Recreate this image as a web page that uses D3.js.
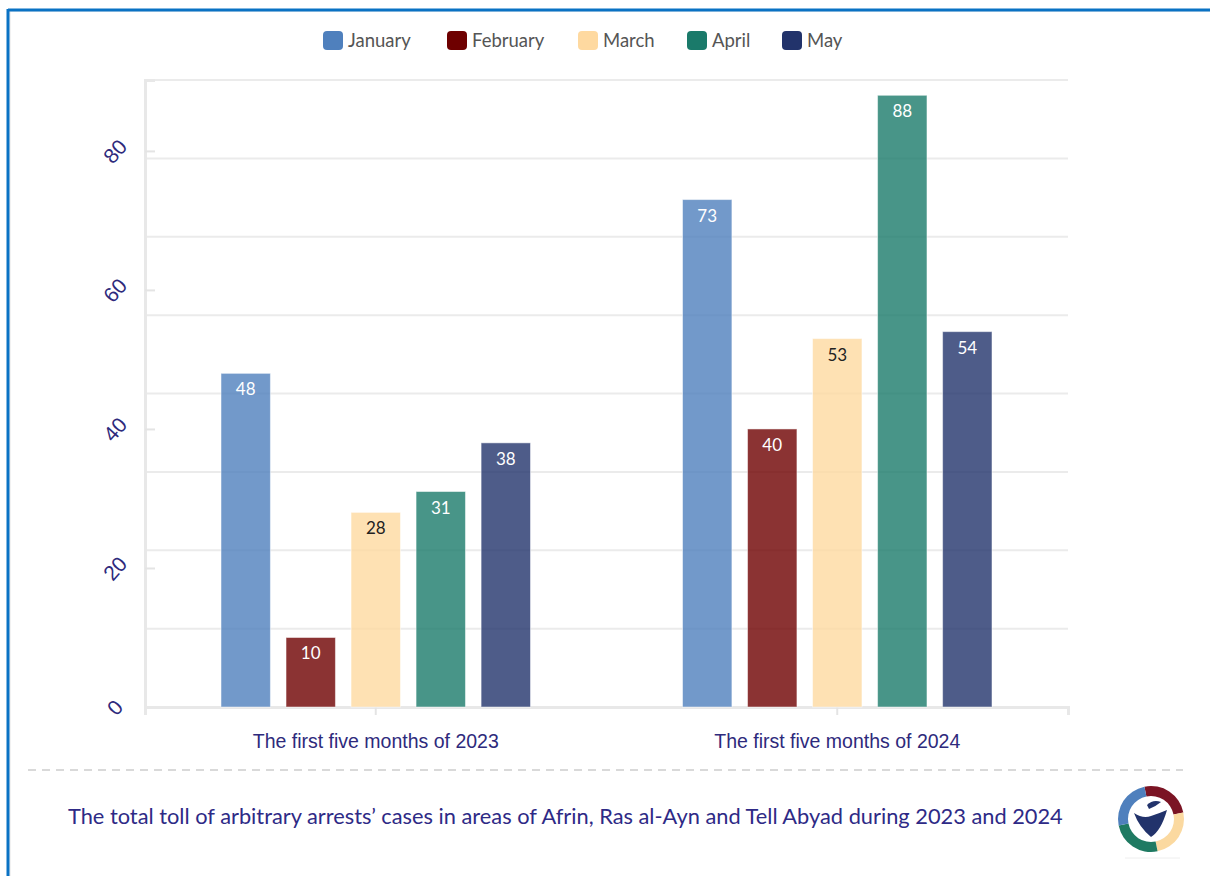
<!DOCTYPE html>
<html>
<head>
<meta charset="utf-8">
<script src="https://cdn.jsdelivr.net/npm/d3@7"></script>
<style>
  html, body { margin: 0; padding: 0; background: #fff; }
  #chart { width: 1210px; height: 876px; }
  svg { display: block; font-family: Lato, "Noto Sans", sans-serif; }
</style>
</head>
<body>
<div id="chart"></div>
<script>
// data
var groups = ["The first five months of 2023", "The first five months of 2024"]
var months = ["January", "February", "March", "April", "May"]
var values2023 = [48, 10, 28, 31, 38]
var values2024 = [73, 40, 53, 88, 54]
var yTicks = [0, 20, 40, 60, 80]
var monthColors = ["#4f80bd", "#6e0000", "#fed9a0", "#1a7a6a", "#22336b"]
var caption = "The total toll of arbitrary arrests\u2019 cases in areas of Afrin, Ras al-Ayn and Tell Abyad during 2023 and 2024"

var seriesByGroup = [values2023, values2024]

function renderChart(render_id) {
    var W = 1210, H = 876
    var svg = d3.select("#" + render_id).append("svg")
        .attr("width", W)
        .attr("height", H)

    // frame (blue border on top / left)
    svg.append("rect").attr("x", 10).attr("y", 11).attr("width", W).attr("height", H)
        .attr("fill", "none").attr("stroke", "#e4e4e4").attr("stroke-width", 1)
    svg.append("line").attr("x1", 8).attr("x2", W).attr("y1", 10).attr("y2", 10)
        .attr("stroke", "#0a72c4").attr("stroke-width", 3)
    svg.append("line").attr("x1", 8).attr("x2", 8).attr("y1", 9).attr("y2", H)
        .attr("stroke", "#0a72c4").attr("stroke-width", 3)

    var left = 145, right = 1068, top = 80, bottom = 707
    var yMax = 90.2

    var x0 = d3.scaleBand().domain(groups).range([left, right]).padding(0)
    var x1 = d3.scaleBand().domain(months).range([76, x0.bandwidth() - 76]).paddingInner(0.24).paddingOuter(0)
    var y = d3.scaleLinear().domain([0, yMax]).range([bottom, top])
    var color = d3.scaleOrdinal().domain(months).range(monthColors)

    // grid lines (8 even divisions of the plot)
    var gridVals = d3.range(1, 9).map(function (i) { return yMax * i / 8 })
    svg.append("g").selectAll("line")
        .data(gridVals)
        .enter().append("line")
        .attr("x1", left).attr("x2", right)
        .attr("y1", function (d) { return y(d) }).attr("y2", function (d) { return y(d) })
        .attr("stroke", "#ebebeb").attr("stroke-width", 2)

    // y axis
    var yAxis = svg.append("g")
        .attr("transform", "translate(" + left + ",0)")
        .call(d3.axisLeft(y).tickValues(yTicks).tickSize(-10).tickPadding(22))
    yAxis.select(".domain").attr("stroke", "#e8e8e8").attr("stroke-width", 3)
    yAxis.selectAll(".tick line").attr("stroke", "#e4e4e4").attr("stroke-width", 2)
        .attr("x1", 0).attr("x2", 10)
    yAxis.selectAll(".tick text")
        .attr("fill", "#2e2a7c")
        .style("font-size", "21px")
        .attr("text-anchor", "middle")
        .attr("x", -30)
        .attr("dy", "0.35em")
        .attr("transform", function () { return "rotate(-48," + (-30) + ",0)" })

    // x axis
    var xAxis = svg.append("g")
        .attr("transform", "translate(0," + bottom + ")")
        .call(d3.axisBottom(x0).tickSize(8).tickPadding(19))
    xAxis.select(".domain").attr("stroke", "#e8e8e8").attr("stroke-width", 3)
    xAxis.selectAll(".tick line").attr("stroke", "#e4e4e4").attr("stroke-width", 2)
    xAxis.selectAll(".tick text")
        .attr("fill", "#2e2a7c")
        .style("font-size", "19.5px")

    // bars
    var gGroups = svg.append("g").selectAll("g")
        .data(groups)
        .enter().append("g")
        .attr("transform", function (d) { return "translate(" + x0(d) + ",0)" })

    var bar = gGroups.selectAll("g")
        .data(function (d, i) {
            return months.map(function (m, j) { return { month: m, value: seriesByGroup[i][j] } })
        })
        .enter().append("g")

    bar.append("rect")
        .attr("x", function (d) { return x1(d.month) })
        .attr("y", function (d) { return y(d.value) })
        .attr("width", x1.bandwidth())
        .attr("height", function (d) { return y(0) - y(d.value) })
        .attr("fill", function (d) { return color(d.month) })
        .attr("fill-opacity", 0.8)
        .attr("stroke", "#ffffff")
        .attr("stroke-opacity", 0.5)
        .attr("stroke-width", 1)

    bar.append("text")
        .attr("x", function (d) { return x1(d.month) + x1.bandwidth() / 2 })
        .attr("y", function (d) { return y(d.value) + 22 })
        .attr("text-anchor", "middle")
        .attr("fill", function (d) { return d.month === "March" ? "#222" : "#fff" })
        .style("font-size", "17px")
        .text(function (d) { return d.value })

    // legend
    var legendX = [323, 447, 578, 687, 782]
    var legend = svg.append("g").selectAll("g")
        .data(months)
        .enter().append("g")
        .attr("transform", function (d, i) { return "translate(" + legendX[i] + ",31)" })
    legend.append("rect")
        .attr("width", 20).attr("height", 19).attr("rx", 4)
        .attr("fill", function (d) { return color(d) })
    legend.append("text")
        .attr("x", 25).attr("y", 10).attr("dy", "0.35em")
        .attr("fill", "#555")
        .style("font-size", "18.5px")
        .text(function (d) { return d })

    // dashed separator
    svg.append("line")
        .attr("x1", 28).attr("x2", 1183).attr("y1", 770).attr("y2", 770)
        .attr("stroke", "#d9d9d9").attr("stroke-width", 2)
        .attr("stroke-dasharray", "8,6")

    // caption
    svg.append("text")
        .attr("x", 68).attr("y", 824)
        .attr("fill", "#2e2a86")
        .style("font-size", "21.8px")
        .text(caption)

    // logo
    var logo = svg.append("g").attr("transform", "translate(1151,819)")
    var arc = d3.arc().innerRadius(23).outerRadius(33)
    var logoCols = ["#7b1424", "#fbd9a0", "#1f7a62", "#4f80bd"]
    logo.selectAll("path")
        .data(logoCols)
        .enter().append("path")
        .attr("d", function (d, i) { return arc({ startAngle: i * Math.PI / 2 - 0.2, endAngle: (i + 1) * Math.PI / 2 - 0.2 }) })
        .attr("fill", function (d) { return d })
    logo.append("path")
        .attr("d", "M-17,-6 Q-8,0 0,-3 Q9,-6 16,-9 Q10,12 0,18 Q-12,8 -17,-6 Z")
        .attr("fill", "#22336b")
    logo.append("path")
        .attr("d", "M-4,-14 Q2,-20 10,-17 Q4,-12 -2,-10 Z")
        .attr("fill", "#22336b")
    svg.append("line").attr("x1", 1125).attr("x2", 1180).attr("y1", 858).attr("y2", 858)
        .attr("stroke", "#eee").attr("stroke-width", 1)
}

renderChart("chart")
</script>
</body>
</html>
